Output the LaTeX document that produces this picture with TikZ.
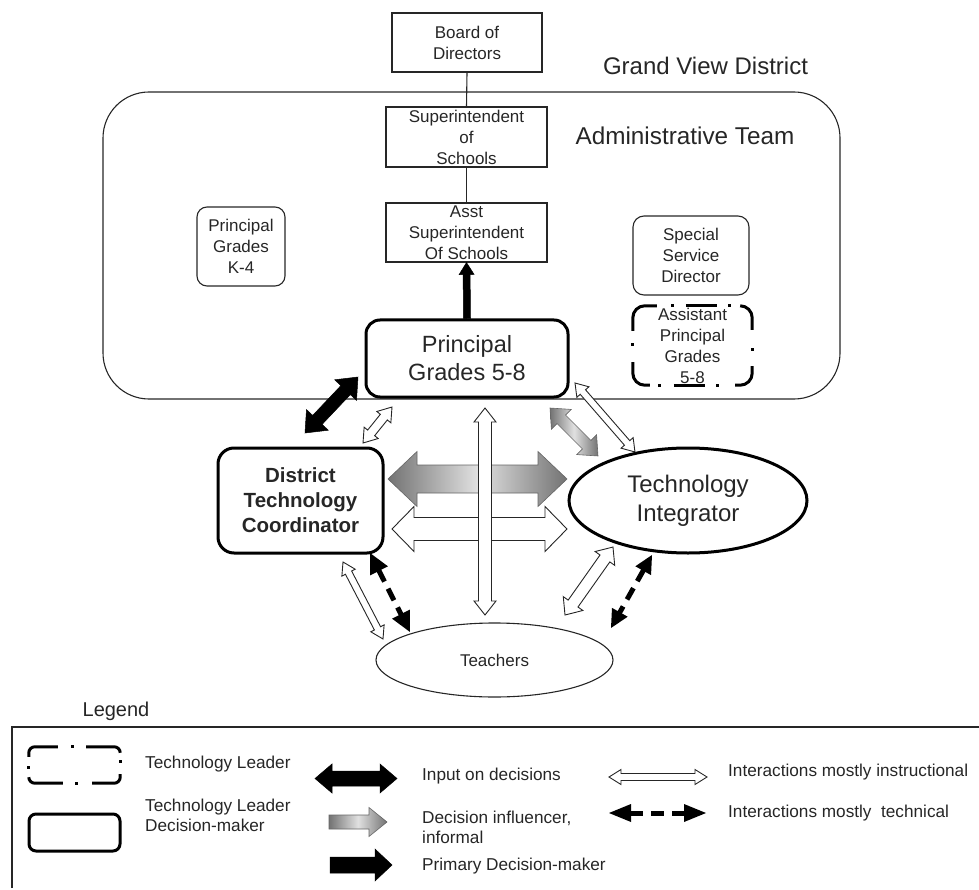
\documentclass[tikz,border=0pt]{standalone}
\usepackage{fontspec}
\setmainfont{Liberation Sans}
\usetikzlibrary{calc,shapes.geometric}

% Block arrow between two points.
% #1 from, #2 to, #3 shaft half-width, #4 head half-width, #5 head length,
% #6 path style, #7 d = double-headed, s = single-headed
\newcommand{\orgarrow}[7]{%
  \path (#1) coordinate (arrA) (#2) coordinate (arrB);
  \pgfpointdiff{\pgfpointanchor{arrA}{center}}{\pgfpointanchor{arrB}{center}}%
  \pgfgetlastxy{\arrdx}{\arrdy}%
  \pgfmathsetmacro{\arrang}{atan2(\arrdy,\arrdx)}%
  \pgfmathsetmacro{\arrlen}{veclen(\arrdx,\arrdy)}%
  \if#7d
    \path[#6,shift={(arrA)},rotate=\arrang]
      (0,0) -- (#5,#4) -- (#5,#3) -- (\arrlen-#5,#3) -- (\arrlen-#5,#4)
      -- (\arrlen,0) -- (\arrlen-#5,-#4) -- (\arrlen-#5,-#3) -- (#5,-#3)
      -- (#5,-#4) -- cycle;
  \else
    \path[#6,shift={(arrA)},rotate=\arrang]
      (0,#3) -- (\arrlen-#5,#3) -- (\arrlen-#5,#4) -- (\arrlen,0)
      -- (\arrlen-#5,-#4) -- (\arrlen-#5,-#3) -- (0,-#3) -- cycle;
  \fi}

% Dashed double arrow with solid triangular heads.
% #1 from, #2 to, #3 head half-width, #4 head length, #5 line width
\newcommand{\techarrow}[5]{%
  \path (#1) coordinate (arrA) (#2) coordinate (arrB);
  \pgfpointdiff{\pgfpointanchor{arrA}{center}}{\pgfpointanchor{arrB}{center}}%
  \pgfgetlastxy{\arrdx}{\arrdy}%
  \pgfmathsetmacro{\arrang}{atan2(\arrdy,\arrdx)}%
  \pgfmathsetmacro{\arrlen}{veclen(\arrdx,\arrdy)}%
  \begin{scope}[shift={(arrA)},rotate=\arrang]
    \fill[black] (0,0) -- (#4,#3) -- (#4,-#3) -- cycle;
    \fill[black] (\arrlen,0) -- (\arrlen-#4,#3) -- (\arrlen-#4,-#3) -- cycle;
    \draw[black,line width=#5pt,dash pattern=on 13pt off 8pt]
      (#4-1,0) -- (\arrlen-#4+1,0);
  \end{scope}}

% Dot of a dash-dot border
\newcommand{\borderdot}[1]{\fill[black] ($(#1)+(-1.6,-1.6)$) rectangle ($(#1)+(1.6,1.6)$);}

\tikzset{
  txt/.style={text=black!85,align=center,inner sep=0pt},
  small/.style={font=\fontsize{17}{21}\selectfont},
  plainbox/.style={txt,small,draw=black!85,line width=1.1pt},
  softbox/.style={plainbox,rounded corners=11pt},
  leaderline/.style={draw=black,line width=3pt,rounded corners=12pt},
  deciderbox/.style={txt,draw=black,line width=3pt,rounded corners=14pt},
  instr/.style={fill=white,draw=black!85,line width=0.9pt,line join=miter},
  inputarrow/.style={fill=black,draw=black,line width=0.5pt,line join=miter},
  influence/.style={left color=black!55,right color=black!55,middle color=black!12,
    draw=black!60,line width=0.6pt,line join=miter},
  legendtxt/.style={txt,anchor=west,align=left,font=\fontsize{17.2}{20}\selectfont},
}

\begin{document}
\begin{tikzpicture}[x=1pt,y=-1pt]
\useasboundingbox (0,0) rectangle (979,890);

% district container and its headings
\node[draw=black!85,line width=1.1pt,rounded corners=46pt,minimum width=737pt,
  minimum height=307pt,inner sep=0pt] (district) at (471.5,245.5) {};
\node[txt,font=\fontsize{24}{28}\selectfont] (gvd) at (705.5,66) {Grand View District};
\node[txt,font=\fontsize{24.3}{28}\selectfont] (admteam) at (685,136) {Administrative Team};

% chain of command
\node[plainbox,minimum width=150pt,minimum height=59pt] (board) at (467,42.5) {Board of\\Directors};
\node[plainbox,minimum width=161pt,minimum height=60pt] (super) at (466.5,137) {Superintendent\\of\\Schools};
\node[plainbox,minimum width=161pt,minimum height=59pt] (asst) at (466.5,232.5) {Asst\\Superintendent\\Of Schools};
\draw[black!85,line width=1.1pt] (board.south) -- (super.north);
\draw[black!85,line width=1.1pt] (super.south) -- (asst.north);

% administrative team members
\node[softbox,minimum width=88pt,minimum height=79pt,rounded corners=10pt] (pk4) at (241,246.5) {Principal\\Grades\\K-4};
\node[softbox,minimum width=116pt,minimum height=79pt] (ssd) at (691,255.5) {Special\\Service\\Director};
\node[txt,small,minimum width=119pt,minimum height=79pt] (ap58) at (692.5,345.5) {Assistant\\Principal\\Grades\\5-8};
\node[deciderbox,minimum width=202pt,minimum height=77pt,
  font=\fontsize{23.5}{28}\selectfont] (p58) at (467,358.5) {Principal\\Grades 5-8};

% dash-dot border of the technology leader box
\coordinate (apNW) at (ap58.north west); \coordinate (apNE) at (ap58.north east);
\coordinate (apSW) at (ap58.south west); \coordinate (apSE) at (ap58.south east);
\path[leaderline] ($(apNW)+(0,25)$) -- (apNW) -- ($(apNW)+(24,0)$);
\path[leaderline] ($(apNE)+(-12,0)$) -- (apNE) -- ($(apNE)+(0,24)$);
\path[leaderline] ($(apSE)+(0,-19)$) -- (apSE) -- ($(apSE)+(-17,0)$);
\path[leaderline] ($(apSW)+(17,0)$) -- (apSW) -- ($(apSW)+(0,-23)$);
\path[leaderline] ($(apNW)+(53,0)$) -- ($(apNW)+(84,0)$);
\path[leaderline] ($(apSW)+(41,0)$) -- ($(apSW)+(72,0)$);
\borderdot{$(apNW)+(40,0)$} \borderdot{$(apNW)+(97,0)$}
\borderdot{$(apNE)+(0,44)$} \borderdot{$(apSW)+(27,0)$}
\borderdot{$(apSW)+(85,0)$} \borderdot{$(apNW)+(0,39)$}

% technology staff and teachers
\node[deciderbox,minimum width=165pt,minimum height=105pt,rounded corners=16pt,
  font=\fontsize{20.5}{25}\selectfont\bfseries] (dtc) at (300.5,500.5) {District\\Technology\\Coordinator};
\node[txt,ellipse,draw=black,line width=3pt,minimum width=238pt,minimum height=105pt,
  font=\fontsize{24}{29}\selectfont] (ti) at (688,500.5) {Technology\\Integrator};
\node[txt,ellipse,draw=black!85,line width=1.1pt,minimum width=237pt,minimum height=74pt,
  font=\fontsize{17}{21}\selectfont] (teach) at (494.5,660) {Teachers};

% principal reports upward
\orgarrow{p58.north}{asst.south}{3.5}{7.5}{12}{inputarrow}{s}

% end points of the relationship arrows
\coordinate (dtcP) at (305,433);   \coordinate (pDtc) at (358,377);
\coordinate (dtcQ) at (363,443);   \coordinate (pDtcQ) at (392,407);
\coordinate (pT) at (485,408);     \coordinate (tP) at (485,615);
\coordinate (dtcI) at (388,479);   \coordinate (iDtc) at (567,479);
\coordinate (dtcJ) at (392,529);   \coordinate (iDtcJ) at (567,529);
\coordinate (pI) at (550,408);     \coordinate (iP) at (598,456);
\coordinate (pIq) at (575,383);    \coordinate (iPq) at (635,452);
\coordinate (dtcT) at (343,562);   \coordinate (tDtc) at (383,639);
\coordinate (dtcTk) at (370,553);  \coordinate (tDtcK) at (410,632);
\coordinate (tI) at (565,615);     \coordinate (iT) at (613,547);
\coordinate (iTk) at (652,555);    \coordinate (tIk) at (611,628);

\orgarrow{dtcP}{pDtc}{6.5}{15}{18}{inputarrow}{d}
\orgarrow{dtcQ}{pDtcQ}{4.5}{9}{13}{instr}{d}
\orgarrow{dtcI}{iDtc}{14}{27.5}{29}{influence}{d}
\orgarrow{dtcJ}{iDtcJ}{11.5}{22.5}{22}{instr}{d}
\orgarrow{pT}{tP}{6.5}{11}{14}{instr}{d}
\orgarrow{pI}{iP}{6}{14}{16}{influence}{d}
\orgarrow{pIq}{iPq}{3.5}{8}{12}{instr}{d}
\orgarrow{dtcT}{tDtc}{3.5}{7.5}{12}{instr}{d}
\orgarrow{tI}{iT}{6}{12}{14}{instr}{d}
\techarrow{dtcTk}{tDtcK}{10}{20}{5}
\techarrow{iTk}{tIk}{9}{18}{5}

% legend
\node[txt,font=\fontsize{20}{24}\selectfont] (legendtitle) at (116,711) {Legend};
\draw[black!85,line width=1.1pt] (12,888) -- (12,727) -- (995,727);
\node[minimum width=91pt,minimum height=36pt,inner sep=0pt] (keyleader) at (74.5,765) {};
\coordinate (kNW) at (keyleader.north west); \coordinate (kNE) at (keyleader.north east);
\coordinate (kSW) at (keyleader.south west); \coordinate (kSE) at (keyleader.south east);
\path[leaderline,rounded corners=6pt] ($(kNW)+(0,10)$) -- (kNW) -- ($(kNW)+(29,0)$);
\path[leaderline,rounded corners=6pt] ($(kNE)+(-34,0)$) -- (kNE) -- ($(kNE)+(0,6)$);
\path[leaderline,rounded corners=6pt] ($(kSE)+(0,-9)$) -- (kSE) -- ($(kSE)+(-28,0)$);
\path[leaderline,rounded corners=6pt] ($(kSW)+(34,0)$) -- (kSW) -- ($(kSW)+(0,-6)$);
\borderdot{$(kNW)+(44,0)$} \borderdot{$(kNE)+(0,15)$}
\borderdot{$(kSW)+(48,0)$} \borderdot{$(kNW)+(0,21)$}
\node[draw=black,line width=3pt,rounded corners=7pt,minimum width=91pt,minimum height=37pt,
  inner sep=0pt] (keydecider) at (74.5,832.5) {};
\node[legendtxt] (lbl1) at (145,764) {Technology Leader};
\node[legendtxt] (lbl2) at (145,815) {Technology Leader\\Decision-maker};

\coordinate (kInA) at (315,778.5);  \coordinate (kInB) at (397,778.5);
\coordinate (kInfA) at (329,822);   \coordinate (kInfB) at (387,822);
\coordinate (kPrA) at (330,865);    \coordinate (kPrB) at (392,865);
\coordinate (kIsA) at (609,777);    \coordinate (kIsB) at (707,777);
\coordinate (kTcA) at (609,813);    \coordinate (kTcB) at (706,813);
\orgarrow{kInA}{kInB}{7.5}{14.5}{17}{inputarrow}{d}
\orgarrow{kInfA}{kInfB}{7}{14.5}{18}{influence}{s}
\orgarrow{kPrA}{kPrB}{8}{16}{17}{inputarrow}{s}
\orgarrow{kIsA}{kIsB}{3.5}{7.5}{12}{instr}{d}
\techarrow{kTcA}{kTcB}{9}{22}{5}

\node[legendtxt] (lbl3) at (422,776) {Input on decisions};
\node[legendtxt] (lbl4) at (422,827) {Decision influencer,\\informal};
\node[legendtxt] (lbl5) at (422,866) {Primary Decision-maker};
\node[legendtxt] (lbl6) at (728,772) {Interactions mostly instructional};
\node[legendtxt] (lbl7) at (728,813) {Interactions mostly\ \ technical};
\end{tikzpicture}
\end{document}
